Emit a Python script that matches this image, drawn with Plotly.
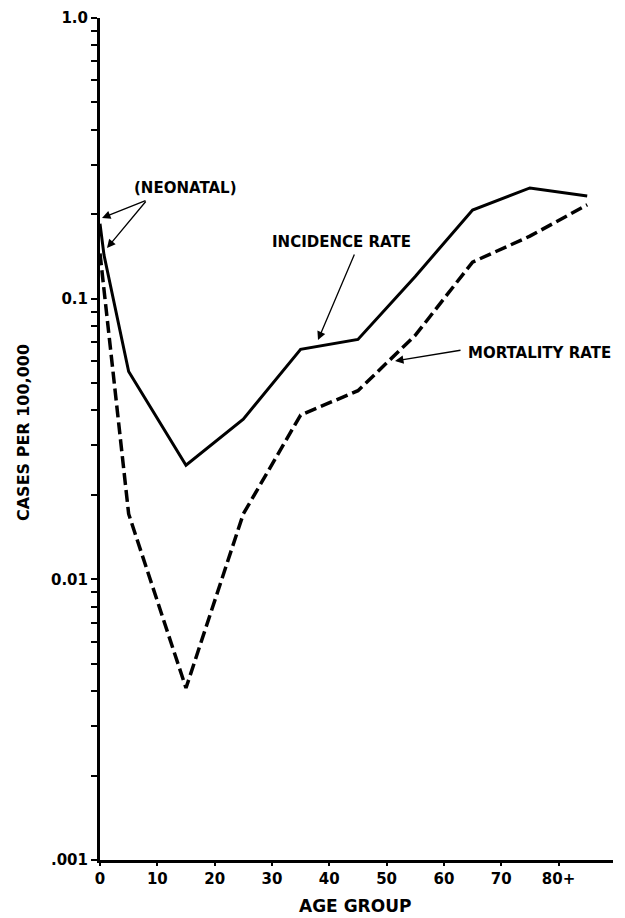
import plotly.graph_objects as go

# ---- data ----
incidence_age = [0, 0.7, 5, 15, 25, 35, 45, 55, 65, 75, 85]
incidence_rate = [0.185, 0.143, 0.055, 0.0255, 0.0372, 0.066, 0.0716, 0.12, 0.207, 0.248, 0.232]

mortality_age = [0, 5, 15, 25, 35, 45, 55, 65, 75, 85]
mortality_rate = [0.145, 0.0171, 0.0041, 0.0171, 0.0385, 0.047, 0.074, 0.135, 0.167, 0.216]

x_tick_vals = [0, 10, 20, 30, 40, 50, 60, 70, 80]
x_tick_text = ["0", "10", "20", "30", "40", "50", "60", "70", "80+"]

y_tick_vals = [0.001, 0.002, 0.003, 0.004, 0.005, 0.006, 0.007, 0.008, 0.009,
               0.01, 0.02, 0.03, 0.04, 0.05, 0.06, 0.07, 0.08, 0.09,
               0.1, 0.2, 0.3, 0.4, 0.5, 0.6, 0.7, 0.8, 0.9, 1.0]
y_major_labels = {0.001: ".001", 0.01: "0.01", 0.1: "0.1", 1.0: "1.0"}
y_tick_text = [y_major_labels.get(v, "") for v in y_tick_vals]

FONT = "DejaVu Sans"
OFF = 8  # default page body margin
W, H = 625 - OFF, 918 - OFF
L, R, T, B = 100 - OFF, 12, 10, 58
PW, PH = W - L - R, H - T - B

def px_to_paper(px, py):
    # px, py are page pixel positions in the target picture
    fx, fy = px - OFF, py - OFF
    return (fx - L) / PW, (H - B - fy) / PH

fig = go.Figure()
fig.add_trace(go.Scatter(
    x=incidence_age, y=incidence_rate, mode="lines",
    line=dict(color="black", width=3), name="Incidence rate", showlegend=False,
))
fig.add_trace(go.Scatter(
    x=mortality_age, y=mortality_rate, mode="lines",
    line=dict(color="black", width=3.5, dash="12px,5px"), name="Mortality rate", showlegend=False,
))

annotations = []
txt_font = dict(family=FONT, size=15, color="black", weight="bold")
for text, (px, py) in [("(NEONATAL)", (185, 188)),
                       ("INCIDENCE RATE", (341, 242)),
                       ("MORTALITY RATE", (539, 353))]:
    x, y = px_to_paper(px, py)
    annotations.append(dict(xref="paper", yref="paper", x=x, y=y, text=text,
                            xanchor="center", yanchor="middle",
                            showarrow=False, font=txt_font))

# axis titles
x, y = px_to_paper(355, 906)
annotations.append(dict(xref="paper", yref="paper", x=x, y=y, text="AGE GROUP", showarrow=False,
                        xanchor="center", yanchor="middle",
                        font=dict(family=FONT, size=17, color="black", weight="bold")))
x, y = px_to_paper(23, 433)
annotations.append(dict(xref="paper", yref="paper", x=x, y=y, text="CASES PER 100,000", showarrow=False,
                        xanchor="center", yanchor="middle", textangle=-90,
                        font=dict(family=FONT, size=16, color="black", weight="bold")))

arrows = [
    ((102, 218), (45, -18)),
    ((107, 248), (40, -48)),
    ((318, 340), (37, -87)),
    ((395, 361), (67, -11)),
]
for (hx, hy), (ax, ay) in arrows:
    x, y = px_to_paper(hx, hy)
    annotations.append(dict(xref="paper", yref="paper", x=x, y=y, ax=ax, ay=ay, text="",
                            showarrow=True, arrowhead=2, arrowsize=1.3, arrowwidth=1.3,
                            arrowcolor="black"))

fig.update_layout(
    width=W, height=H,
    margin=dict(l=L, r=R, t=T, b=B),
    paper_bgcolor="white", plot_bgcolor="white",
    font=dict(family=FONT, color="black"),
    annotations=annotations,
    xaxis=dict(
        range=[0, 89.5], tickmode="array", tickvals=x_tick_vals, ticktext=x_tick_text,
        showgrid=False, zeroline=False, showline=True, linecolor="black", linewidth=3,
        ticks="outside", ticklen=3, tickwidth=1.5, tickcolor="black", automargin=False,
        tickfont=dict(family=FONT, size=15, weight="bold"), ticklabeloverflow="allow",
    ),
    yaxis=dict(
        type="log", range=[-3, 0], tickmode="array", tickvals=y_tick_vals, ticktext=y_tick_text,
        showgrid=False, zeroline=False, showline=True, linecolor="black", linewidth=3,
        ticks="outside", ticklen=6, tickwidth=2, tickcolor="black", automargin=False,
        tickfont=dict(family=FONT, size=15, weight="bold"), ticklabeloverflow="allow",
    ),
)

fig.write_html("out.html")
